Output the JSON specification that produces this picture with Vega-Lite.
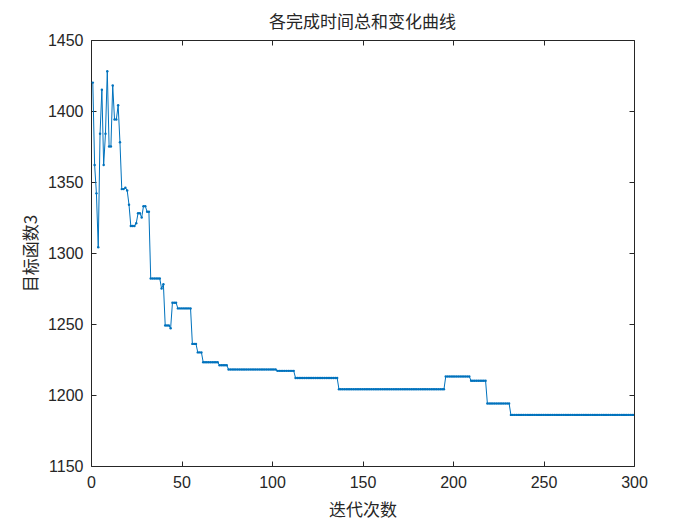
{
  "$schema": "https://vega.github.io/schema/vega-lite/v6.json",
  "autosize": "none",
  "width": 543,
  "height": 426,
  "padding": {"left": 91, "top": 40, "right": 66, "bottom": 59},
  "background": "white",
  "title": {"text": "各完成时间总和变化曲线", "font": "Noto Sans CJK SC", "fontSize": 17, "fontWeight": "normal", "color": "#262626", "offset": 0},
  "config": {
    "view": {"stroke": "#262626", "strokeWidth": 1},
    "axis": {"grid": false, "domain": false, "labelFlush": false, "tickColor": "#262626", "tickSize": -5, "labelColor": "#262626", "labelFont": "Liberation Sans", "labelFontSize": 16, "titleColor": "#262626", "titleFont": "Noto Sans CJK SC", "titleFontSize": 17, "titleFontWeight": "normal"}
  },
  "data": {"values": [
    {"i":1,"v":1420},{"i":2,"v":1362},{"i":3,"v":1342},{"i":4,"v":1304},{"i":5,"v":1384},{"i":6,"v":1415},{"i":7,"v":1362},{"i":8,"v":1384},{"i":9,"v":1428},{"i":10,"v":1375},
    {"i":11,"v":1375},{"i":12,"v":1418},{"i":13,"v":1394},{"i":14,"v":1394},{"i":15,"v":1404},{"i":16,"v":1378},{"i":17,"v":1345},{"i":18,"v":1345},{"i":19,"v":1346},{"i":20,"v":1344},
    {"i":21,"v":1334},{"i":22,"v":1319},{"i":23,"v":1319},{"i":24,"v":1319},{"i":25,"v":1321},{"i":26,"v":1328},{"i":27,"v":1328},{"i":28,"v":1325},{"i":29,"v":1333},{"i":30,"v":1333},
    {"i":31,"v":1329},{"i":32,"v":1329},{"i":33,"v":1282},{"i":34,"v":1282},{"i":35,"v":1282},{"i":36,"v":1282},{"i":37,"v":1282},{"i":38,"v":1282},{"i":39,"v":1275},{"i":40,"v":1278},
    {"i":41,"v":1249},{"i":42,"v":1249},{"i":43,"v":1249},{"i":44,"v":1247},{"i":45,"v":1265},{"i":46,"v":1265},{"i":47,"v":1265},{"i":48,"v":1261},{"i":49,"v":1261},{"i":50,"v":1261},
    {"i":51,"v":1261},{"i":52,"v":1261},{"i":53,"v":1261},{"i":54,"v":1261},{"i":55,"v":1261},{"i":56,"v":1236},{"i":57,"v":1236},{"i":58,"v":1236},{"i":59,"v":1230},{"i":60,"v":1230},
    {"i":61,"v":1230},{"i":62,"v":1223},{"i":63,"v":1223},{"i":64,"v":1223},{"i":65,"v":1223},{"i":66,"v":1223},{"i":67,"v":1223},{"i":68,"v":1223},{"i":69,"v":1223},{"i":70,"v":1223},
    {"i":71,"v":1221},{"i":72,"v":1221},{"i":73,"v":1221},{"i":74,"v":1221},{"i":75,"v":1221},{"i":76,"v":1218},{"i":77,"v":1218},{"i":78,"v":1218},{"i":79,"v":1218},{"i":80,"v":1218},
    {"i":81,"v":1218},{"i":82,"v":1218},{"i":83,"v":1218},{"i":84,"v":1218},{"i":85,"v":1218},{"i":86,"v":1218},{"i":87,"v":1218},{"i":88,"v":1218},{"i":89,"v":1218},{"i":90,"v":1218},
    {"i":91,"v":1218},{"i":92,"v":1218},{"i":93,"v":1218},{"i":94,"v":1218},{"i":95,"v":1218},{"i":96,"v":1218},{"i":97,"v":1218},{"i":98,"v":1218},{"i":99,"v":1218},{"i":100,"v":1218},
    {"i":101,"v":1218},{"i":102,"v":1218},{"i":103,"v":1217},{"i":104,"v":1217},{"i":105,"v":1217},{"i":106,"v":1217},{"i":107,"v":1217},{"i":108,"v":1217},{"i":109,"v":1217},{"i":110,"v":1217},
    {"i":111,"v":1217},{"i":112,"v":1217},{"i":113,"v":1212},{"i":114,"v":1212},{"i":115,"v":1212},{"i":116,"v":1212},{"i":117,"v":1212},{"i":118,"v":1212},{"i":119,"v":1212},{"i":120,"v":1212},
    {"i":121,"v":1212},{"i":122,"v":1212},{"i":123,"v":1212},{"i":124,"v":1212},{"i":125,"v":1212},{"i":126,"v":1212},{"i":127,"v":1212},{"i":128,"v":1212},{"i":129,"v":1212},{"i":130,"v":1212},
    {"i":131,"v":1212},{"i":132,"v":1212},{"i":133,"v":1212},{"i":134,"v":1212},{"i":135,"v":1212},{"i":136,"v":1212},{"i":137,"v":1204},{"i":138,"v":1204},{"i":139,"v":1204},{"i":140,"v":1204},
    {"i":141,"v":1204},{"i":142,"v":1204},{"i":143,"v":1204},{"i":144,"v":1204},{"i":145,"v":1204},{"i":146,"v":1204},{"i":147,"v":1204},{"i":148,"v":1204},{"i":149,"v":1204},{"i":150,"v":1204},
    {"i":151,"v":1204},{"i":152,"v":1204},{"i":153,"v":1204},{"i":154,"v":1204},{"i":155,"v":1204},{"i":156,"v":1204},{"i":157,"v":1204},{"i":158,"v":1204},{"i":159,"v":1204},{"i":160,"v":1204},
    {"i":161,"v":1204},{"i":162,"v":1204},{"i":163,"v":1204},{"i":164,"v":1204},{"i":165,"v":1204},{"i":166,"v":1204},{"i":167,"v":1204},{"i":168,"v":1204},{"i":169,"v":1204},{"i":170,"v":1204},
    {"i":171,"v":1204},{"i":172,"v":1204},{"i":173,"v":1204},{"i":174,"v":1204},{"i":175,"v":1204},{"i":176,"v":1204},{"i":177,"v":1204},{"i":178,"v":1204},{"i":179,"v":1204},{"i":180,"v":1204},
    {"i":181,"v":1204},{"i":182,"v":1204},{"i":183,"v":1204},{"i":184,"v":1204},{"i":185,"v":1204},{"i":186,"v":1204},{"i":187,"v":1204},{"i":188,"v":1204},{"i":189,"v":1204},{"i":190,"v":1204},
    {"i":191,"v":1204},{"i":192,"v":1204},{"i":193,"v":1204},{"i":194,"v":1204},{"i":195,"v":1204},{"i":196,"v":1213},{"i":197,"v":1213},{"i":198,"v":1213},{"i":199,"v":1213},{"i":200,"v":1213},
    {"i":201,"v":1213},{"i":202,"v":1213},{"i":203,"v":1213},{"i":204,"v":1213},{"i":205,"v":1213},{"i":206,"v":1213},{"i":207,"v":1213},{"i":208,"v":1213},{"i":209,"v":1213},{"i":210,"v":1210},
    {"i":211,"v":1210},{"i":212,"v":1210},{"i":213,"v":1210},{"i":214,"v":1210},{"i":215,"v":1210},{"i":216,"v":1210},{"i":217,"v":1210},{"i":218,"v":1210},{"i":219,"v":1194},{"i":220,"v":1194},
    {"i":221,"v":1194},{"i":222,"v":1194},{"i":223,"v":1194},{"i":224,"v":1194},{"i":225,"v":1194},{"i":226,"v":1194},{"i":227,"v":1194},{"i":228,"v":1194},{"i":229,"v":1194},{"i":230,"v":1194},
    {"i":231,"v":1194},{"i":232,"v":1186},{"i":233,"v":1186},{"i":234,"v":1186},{"i":235,"v":1186},{"i":236,"v":1186},{"i":237,"v":1186},{"i":238,"v":1186},{"i":239,"v":1186},{"i":240,"v":1186},
    {"i":241,"v":1186},{"i":242,"v":1186},{"i":243,"v":1186},{"i":244,"v":1186},{"i":245,"v":1186},{"i":246,"v":1186},{"i":247,"v":1186},{"i":248,"v":1186},{"i":249,"v":1186},{"i":250,"v":1186},
    {"i":251,"v":1186},{"i":252,"v":1186},{"i":253,"v":1186},{"i":254,"v":1186},{"i":255,"v":1186},{"i":256,"v":1186},{"i":257,"v":1186},{"i":258,"v":1186},{"i":259,"v":1186},{"i":260,"v":1186},
    {"i":261,"v":1186},{"i":262,"v":1186},{"i":263,"v":1186},{"i":264,"v":1186},{"i":265,"v":1186},{"i":266,"v":1186},{"i":267,"v":1186},{"i":268,"v":1186},{"i":269,"v":1186},{"i":270,"v":1186},
    {"i":271,"v":1186},{"i":272,"v":1186},{"i":273,"v":1186},{"i":274,"v":1186},{"i":275,"v":1186},{"i":276,"v":1186},{"i":277,"v":1186},{"i":278,"v":1186},{"i":279,"v":1186},{"i":280,"v":1186},
    {"i":281,"v":1186},{"i":282,"v":1186},{"i":283,"v":1186},{"i":284,"v":1186},{"i":285,"v":1186},{"i":286,"v":1186},{"i":287,"v":1186},{"i":288,"v":1186},{"i":289,"v":1186},{"i":290,"v":1186},
    {"i":291,"v":1186},{"i":292,"v":1186},{"i":293,"v":1186},{"i":294,"v":1186},{"i":295,"v":1186},{"i":296,"v":1186},{"i":297,"v":1186},{"i":298,"v":1186},{"i":299,"v":1186},{"i":300,"v":1186}
  ]},
  "layer": [
    {
      "mark": {"type": "line", "color": "#0072BD", "strokeWidth": 1, "clip": true},
      "encoding": {
        "x": {"field": "i", "type": "quantitative", "scale": {"domain": [0, 300], "nice": false, "zero": false}, "axis": {"orient": "bottom", "values": [0, 50, 100, 150, 200, 250, 300], "format": "d", "title": "迭代次数", "labelPadding": 13, "titlePadding": 12}},
        "y": {"field": "v", "type": "quantitative", "scale": {"domain": [1150, 1450], "nice": false, "zero": false}, "axis": {"orient": "left", "values": [1150, 1200, 1250, 1300, 1350, 1400, 1450], "format": "d", "title": "目标函数3", "labelPadding": 13, "titlePadding": 7}}
      }
    },
    {
      "mark": {"type": "point", "filled": true, "color": "#0072BD", "size": 6, "opacity": 1, "clip": true},
      "encoding": {
        "x": {"field": "i", "type": "quantitative", "axis": {"orient": "top", "values": [0, 50, 100, 150, 200, 250, 300], "labels": false, "title": null}},
        "y": {"field": "v", "type": "quantitative", "axis": {"orient": "right", "values": [1150, 1200, 1250, 1300, 1350, 1400, 1450], "labels": false, "title": null}}
      }
    }
  ],
  "resolve": {"axis": {"x": "independent", "y": "independent"}}
}
